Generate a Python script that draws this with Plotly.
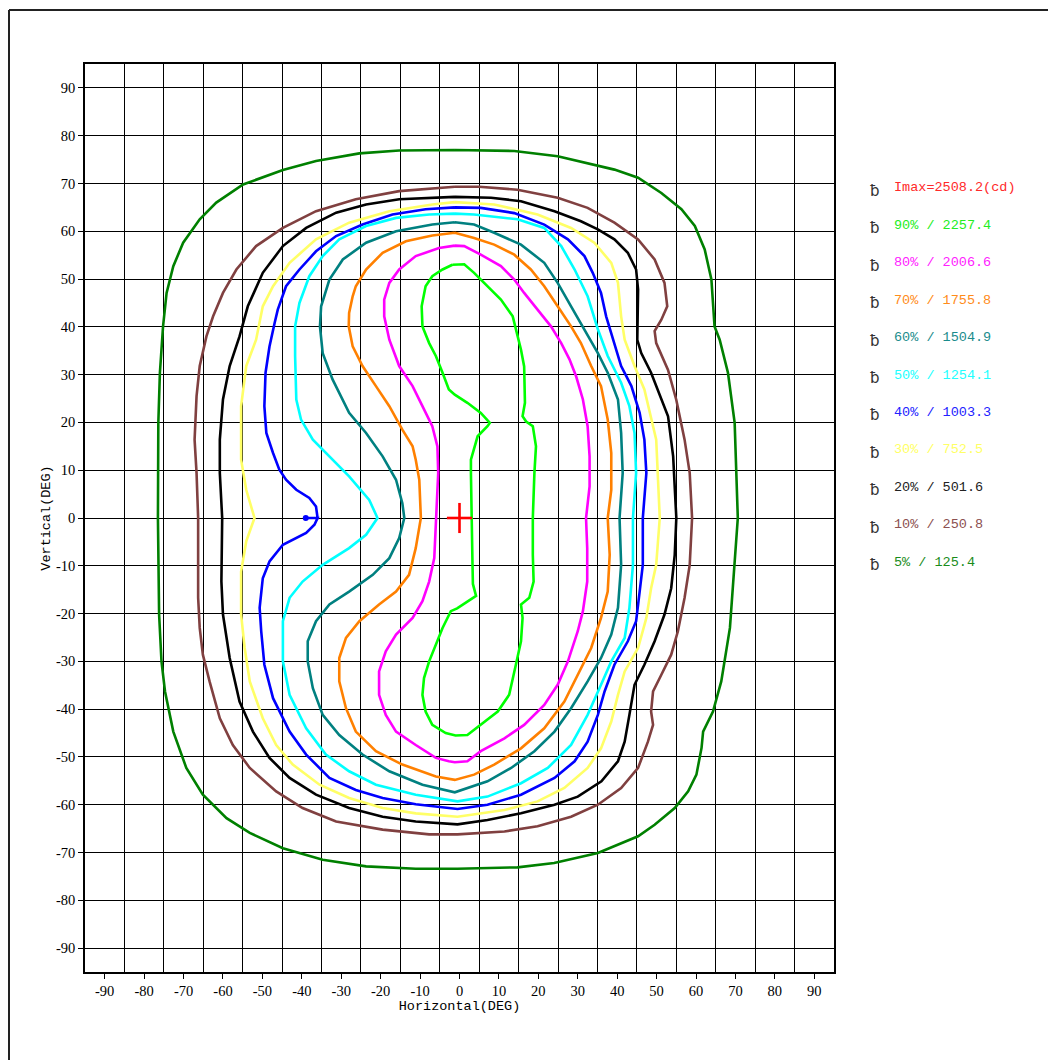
import plotly.graph_objects as go

# ---------------- data ----------------
X_TICKS = [-90, -80, -70, -60, -50, -40, -30, -20, -10, 0, 10, 20, 30, 40, 50, 60, 70, 80, 90]
X_TICK_TEXT = ["-90", "-80", "-70", "-60", "-50", "-40", "-30", "-20", "-10", "0", "10", "20", "30", "40", "50", "60", "70", "80", "90"]
Y_TICKS = [90, 80, 70, 60, 50, 40, 30, 20, 10, 0, -10, -20, -30, -40, -50, -60, -70, -80, -90]
Y_TICK_TEXT = ["90", "80", "70", "60", "50", "40", "30", "20", "10", "0", "-10", "-20", "-30", "-40", "-50", "-60", "-70", "-80", "-90"]
X_GRID = [-85, -75, -65, -55, -45, -35, -25, -15, -5, 5, 15, 25, 35, 45, 55, 65, 75, 85]

IMAX_POS = (0, 0)

# 5 %
C5_H = [-1.2, 13.9, 24.9, 32.5, 39.3, 45.3, 51.2, 56.3, 59.7, 62.2, 63.9, 64.7, 66.0, 68.1, 69.8, 70.6, 69.8, 68.6, 66.4, 64.3, 61.8, 61.4, 60.1, 58.0, 54.6, 49.5, 45.3, 35.1, 24.0, 14.7, -0.5, -11.1, -23.7, -34.7, -44.8, -53.2, -59.1, -65.1, -69.3, -72.6, -74.7, -75.6, -76.2, -76.5, -76.4, -76.0, -75.2, -74.3, -72.6, -70.1, -65.9, -61.7, -54.9, -44.8, -36.4, -25.4, -15.3, -1.2]
C5_V = [77.0, 76.8, 75.7, 74.3, 72.9, 71.2, 68.0, 64.6, 61.1, 56.2, 49.9, 40.1, 37.3, 30.4, 19.9, 0.0, -9.8, -23.0, -34.2, -40.5, -44.7, -48.1, -53.7, -57.2, -60.7, -64.2, -66.6, -70.1, -72.2, -73.1, -73.4, -73.4, -72.9, -71.5, -69.1, -65.9, -62.8, -57.9, -52.3, -44.7, -36.3, -30.0, -20.2, 0.0, 19.9, 30.4, 40.1, 47.1, 52.7, 57.6, 62.5, 66.0, 69.8, 72.8, 74.7, 76.3, 76.9, 77.0]

# 10 %
C10_H = [-1.2, 5.0, 14.7, 24.9, 32.5, 39.3, 45.3, 49.5, 52.0, 52.7, 51.2, 49.5, 49.9, 52.9, 55.0, 57.1, 58.4, 59.0, 58.4, 57.1, 55.4, 53.7, 51.2, 49.1, 48.6, 49.1, 47.8, 45.3, 41.0, 35.1, 28.3, 19.8, 11.4, -0.5, -7.7, -19.5, -31.3, -39.8, -46.5, -53.2, -57.5, -60.8, -63.4, -65.1, -65.9, -66.3, -66.3, -66.7, -67.2, -66.7, -65.9, -64.2, -62.5, -60.0, -56.6, -51.6, -44.8, -36.4, -26.3, -15.3, -1.2]
C10_V = [69.3, 69.3, 68.7, 67.0, 64.9, 61.8, 58.3, 54.1, 49.2, 44.3, 41.5, 39.1, 36.6, 31.0, 24.7, 16.4, 9.4, 0.0, -9.8, -16.7, -23.7, -28.6, -32.8, -36.3, -40.5, -43.3, -46.8, -52.3, -56.5, -60.0, -62.5, -64.5, -65.6, -66.2, -66.2, -65.2, -63.5, -60.7, -57.2, -52.3, -47.5, -41.9, -34.2, -28.6, -23.0, -16.7, 0.0, 9.4, 16.4, 25.5, 31.8, 38.0, 42.2, 47.1, 52.0, 56.9, 60.7, 64.2, 66.7, 68.4, 69.3]

# 20 %
C20_H = [-1.2, 8.0, 15.6, 24.1, 30.8, 35.1, 39.3, 42.7, 44.8, 45.3, 45.1, 46.1, 48.6, 51.2, 52.9, 54.2, 55.0, 54.6, 53.7, 52.0, 49.5, 46.9, 44.4, 43.1, 41.9, 40.2, 36.0, 30.0, 24.1, 15.6, 7.1, -0.5, -11.1, -19.5, -28.0, -36.4, -43.1, -48.2, -52.4, -55.8, -58.3, -60.0, -60.4, -60.2, -60.8, -60.8, -60.0, -58.3, -55.8, -53.7, -49.9, -44.8, -38.9, -31.3, -23.7, -15.3, -1.2]
C20_V = [67.2, 67.0, 66.3, 64.2, 62.1, 60.4, 58.3, 55.5, 52.0, 47.8, 37.3, 34.5, 30.4, 24.7, 21.3, 12.9, 0.0, -7.7, -14.7, -20.2, -25.8, -30.7, -34.9, -41.2, -46.8, -50.9, -55.1, -58.3, -60.0, -61.8, -63.2, -64.1, -63.5, -62.5, -60.7, -57.9, -54.4, -50.2, -44.7, -38.4, -29.3, -20.2, -13.3, 0.0, 9.4, 16.4, 24.8, 31.8, 38.0, 44.3, 51.3, 56.9, 60.7, 63.9, 65.6, 66.7, 67.2]

# 30 %
C30_H = [-1.2, 8.8, 19.8, 28.3, 34.2, 38.5, 40.2, 41.0, 41.9, 44.4, 46.9, 48.6, 49.9, 50.8, 49.9, 48.6, 47.4, 45.3, 41.9, 40.2, 38.5, 35.9, 32.5, 26.6, 19.8, 11.4, -0.5, -11.1, -19.5, -28.0, -35.5, -42.3, -46.5, -49.9, -53.2, -54.5, -55.4, -55.4, -54.1, -52.0, -54.1, -55.4, -55.4, -54.1, -51.6, -49.9, -47.3, -43.1, -36.4, -28.0, -17.8, -6.9, -1.2]
C30_V = [66.1, 65.6, 63.5, 60.7, 57.6, 53.4, 49.2, 42.2, 37.3, 31.8, 26.9, 21.3, 16.4, 0.0, -9.8, -14.7, -20.9, -27.2, -32.1, -37.0, -42.6, -48.2, -52.3, -56.5, -59.3, -61.1, -62.5, -61.8, -60.7, -58.6, -55.8, -51.6, -47.5, -41.9, -34.2, -27.2, -20.2, -11.2, -4.9, 0.0, 5.9, 12.2, 23.4, 31.8, 37.3, 44.3, 48.5, 53.4, 58.3, 61.8, 64.2, 65.6, 66.1]

# 40 %
C40_H = [-1.2, 5.4, 13.9, 21.5, 27.5, 31.7, 33.8, 35.9, 37.2, 38.9, 41.0, 43.6, 45.7, 46.9, 47.4, 46.5, 46.5, 45.7, 44.8, 42.7, 39.3, 36.8, 35.1, 32.5, 29.2, 24.1, 15.6, 7.1, -0.5, -11.1, -19.5, -26.3, -33.0, -38.9, -43.1, -47.3, -49.5, -50.3, -50.7, -49.9, -48.2, -44.8, -38.9, -36.8, -36.0, -39.0, -36.0, -36.4, -38.1, -41.4, -44.0, -45.7, -47.3, -49.0, -49.5, -49.2, -48.2, -46.9, -46.1, -44.0, -40.6, -36.4, -31.3, -24.6, -17.0, -8.6, -1.2]
C40_V = [65.0, 64.9, 63.8, 61.4, 58.3, 54.8, 51.3, 47.1, 42.2, 37.3, 31.8, 27.6, 22.0, 16.4, 9.4, 0.0, -9.8, -15.4, -21.6, -25.8, -30.7, -36.3, -41.2, -46.8, -50.9, -54.4, -57.9, -60.0, -60.9, -59.9, -58.6, -56.9, -54.4, -49.5, -44.7, -37.7, -30.7, -23.7, -18.8, -12.6, -9.1, -5.6, -3.1, -1.4, 0.0, 0.0, 0.0, 2.4, 4.2, 5.9, 8.0, 10.1, 13.6, 17.8, 23.4, 30.4, 35.9, 40.8, 43.6, 48.5, 52.0, 55.8, 59.0, 61.4, 63.5, 64.6, 65.0]
C40_DOT = (-39.0, 0.0)

# 50 %
C50_H = [-1.2, 3.7, 14.7, 21.5, 25.8, 29.2, 32.5, 35.1, 37.6, 41.0, 43.1, 44.4, 44.8, 44.0, 44.0, 43.1, 41.9, 38.5, 35.9, 32.5, 28.3, 22.4, 15.6, 7.1, -0.5, -11.1, -21.2, -28.0, -33.9, -38.9, -43.1, -44.8, -44.8, -43.1, -39.8, -34.7, -28.0, -23.7, -20.8, -22.9, -28.0, -33.0, -37.2, -40.2, -41.4, -41.7, -41.7, -40.6, -38.1, -34.7, -30.5, -23.7, -16.1, -7.7, -1.2]
C50_V = [63.7, 63.5, 62.5, 60.7, 56.9, 52.0, 46.4, 39.5, 33.9, 28.3, 23.4, 17.8, 9.4, 0.0, -9.8, -18.8, -25.1, -30.0, -34.9, -41.2, -47.5, -52.3, -55.5, -58.3, -59.3, -57.9, -55.8, -53.0, -49.5, -44.0, -37.0, -30.0, -21.6, -16.7, -13.3, -9.8, -6.3, -3.5, 0.0, 3.8, 8.7, 12.9, 16.4, 20.6, 24.8, 33.9, 40.1, 45.0, 50.6, 54.8, 58.3, 61.1, 62.8, 63.5, 63.7]

# 60 %
C60_H = [-1.2, 3.7, 8.8, 15.6, 21.5, 24.9, 28.3, 31.7, 35.1, 37.6, 40.2, 41.0, 41.4, 40.6, 41.0, 40.2, 38.5, 35.9, 32.5, 28.3, 24.1, 19.0, 13.1, 7.1, 2.0, -1.2, -9.4, -17.8, -24.6, -30.5, -34.7, -37.2, -38.5, -38.5, -36.4, -33.0, -28.0, -22.0, -17.8, -15.3, -14.0, -14.5, -16.1, -19.5, -23.7, -28.0, -32.2, -34.7, -35.4, -35.1, -33.0, -29.6, -23.7, -16.1, -6.9, -1.2]
C60_V = [61.9, 61.4, 59.7, 57.2, 53.4, 49.2, 44.3, 39.4, 34.5, 30.4, 24.8, 17.8, 9.4, 0.0, -9.8, -18.8, -24.4, -29.3, -34.2, -39.8, -44.7, -48.8, -52.3, -55.1, -56.5, -57.4, -55.8, -53.0, -49.5, -45.4, -41.2, -35.6, -30.0, -25.8, -21.6, -18.1, -15.4, -11.9, -8.4, -4.2, 0.0, 3.1, 8.0, 12.9, 17.8, 22.0, 29.0, 34.5, 40.1, 44.3, 49.9, 54.1, 57.6, 60.0, 61.4, 61.9]

# 70 %
C70_H = [-1.2, 3.7, 8.8, 13.9, 18.1, 21.5, 24.9, 28.3, 30.8, 33.4, 35.9, 37.6, 38.5, 38.5, 37.6, 38.1, 37.6, 35.9, 33.4, 30.0, 26.6, 21.5, 15.6, 8.8, 3.7, -1.2, -6.0, -14.5, -21.2, -26.3, -28.8, -30.5, -30.5, -28.8, -25.4, -20.4, -16.1, -12.8, -11.1, -9.8, -10.2, -11.1, -11.9, -14.5, -17.8, -21.2, -24.6, -27.1, -28.1, -28.0, -27.1, -26.3, -23.7, -19.5, -13.6, -6.9, -1.2]
C70_V = [59.7, 58.6, 57.2, 55.1, 52.0, 48.5, 44.3, 40.1, 36.6, 31.8, 27.6, 20.6, 13.6, 5.9, 0.0, -7.7, -15.4, -20.9, -27.2, -32.8, -38.4, -44.0, -48.2, -51.6, -53.7, -54.8, -54.1, -51.6, -48.8, -44.7, -39.8, -34.2, -29.3, -25.1, -21.6, -18.1, -15.4, -11.9, -6.3, 0.0, 8.0, 12.2, 15.0, 18.5, 23.4, 27.6, 31.8, 35.9, 40.1, 42.9, 46.4, 48.5, 52.0, 55.5, 57.9, 59.1, 59.7]

# 80 %
C80_H = [-1.2, 1.2, 5.4, 10.5, 13.9, 16.4, 19.8, 23.2, 25.8, 27.9, 29.6, 31.3, 32.5, 33.0, 33.0, 32.1, 32.4, 32.4, 31.3, 30.0, 27.5, 24.9, 21.5, 16.4, 11.4, 5.4, 2.0, -1.2, -2.7, -6.0, -11.1, -16.1, -18.7, -20.4, -20.4, -18.7, -16.1, -11.9, -9.4, -7.7, -6.4, -5.9, -5.4, -5.6, -6.9, -9.4, -11.9, -15.3, -17.8, -19.1, -19.1, -17.8, -15.3, -11.1, -5.2, -1.2]
C80_V = [57.0, 56.9, 55.1, 52.7, 49.9, 47.1, 43.6, 40.1, 36.6, 33.2, 29.6, 24.8, 19.2, 12.9, 6.6, 0.0, -6.3, -13.3, -19.5, -23.7, -30.0, -34.9, -39.1, -43.3, -46.1, -48.8, -50.9, -51.1, -50.9, -50.2, -47.5, -44.7, -41.2, -37.0, -32.1, -27.9, -24.4, -20.9, -17.4, -13.3, -8.4, 0.0, 9.4, 15.0, 19.2, 23.4, 27.6, 31.8, 37.3, 42.2, 45.7, 49.2, 52.0, 54.8, 56.5, 57.0]

# 90 %
C90_H = [-1.8, 1.2, 3.7, 7.1, 10.5, 13.5, 14.3, 15.6, 16.4, 16.6, 16.0, 16.9, 18.6, 19.4, 19.0, 18.6, 18.6, 18.8, 17.7, 15.6, 16.0, 15.6, 14.3, 12.6, 9.7, 5.4, 2.0, -1.0, -3.5, -6.9, -8.6, -9.4, -9.0, -7.7, -6.0, -4.3, -2.2, -0.6, 4.2, 3.4, 3.3, 3.0, 2.9, 2.9, 4.6, 7.1, 7.7, 5.4, 2.0, -1.2, -2.7, -4.3, -6.0, -7.7, -9.4, -9.6, -8.6, -6.9, -4.3, -1.8]
C90_V = [53.0, 53.1, 51.3, 48.5, 45.7, 42.2, 39.4, 35.2, 31.7, 24.1, 21.3, 20.2, 19.2, 15.0, 9.4, 0.0, -7.7, -13.3, -16.7, -18.1, -20.9, -25.8, -30.7, -37.0, -40.5, -43.3, -45.4, -45.5, -45.0, -43.3, -40.5, -37.0, -33.5, -30.0, -26.5, -23.0, -19.5, -18.9, -16.3, -13.8, -9.8, 0.0, 9.4, 12.2, 17.1, 19.2, 19.9, 22.0, 24.1, 25.8, 26.9, 30.4, 33.9, 36.6, 40.1, 44.3, 48.5, 50.6, 52.0, 53.0]

LEVEL_COLORS = ["#008000", "#804040", "#000000", "#ffff66", "#0000ff", "#00ffff", "#008080", "#ff8000", "#ff00ff", "#00ff00"]
LEVEL_NAMES = ["5%", "10%", "20%", "30%", "40%", "50%", "60%", "70%", "80%", "90%"]
LEVEL_H = [C5_H, C10_H, C20_H, C30_H, C40_H, C50_H, C60_H, C70_H, C80_H, C90_H]
LEVEL_V = [C5_V, C10_V, C20_V, C30_V, C40_V, C50_V, C60_V, C70_V, C80_V, C90_V]

LEGEND_LABELS = ["Imax=2508.2(cd)", "90% / 2257.4", "80% / 2006.6", "70% / 1755.8", "60% / 1504.9",
                 "50% / 1254.1", "40% / 1003.3", "30% / 752.5", "20% / 501.6", "10% / 250.8", "5% / 125.4"]
LEGEND_COLORS = ["#ff2a2a", "#22ee22", "#ff22ff", "#ff8c1a", "#1a8c8c", "#22ffff", "#2222ff", "#ffff66",
                 "#222222", "#8c5050", "#1a8c1a"]

# ---------------- figure ----------------
PAGE_OFF = 8                      # browser body margin
W, H = 1056 - PAGE_OFF, 1060 - PAGE_OFF
ML, MT = 85 - PAGE_OFF, 64 - PAGE_OFF
PW, PH = 749, 908
MR, MB = W - ML - PW, H - MT - PH


def px_to_paper_x(px):
    return (px - PAGE_OFF - ML) / PW


def px_to_paper_y(py):
    return (MT + PH - (py - PAGE_OFF)) / PH


fig = go.Figure()

for name, col, xs, ys in zip(LEVEL_NAMES, LEVEL_COLORS, LEVEL_H, LEVEL_V):
    fig.add_trace(go.Scatter(x=xs, y=ys, mode="lines", name=name,
                             line=dict(color=col, width=2.6), hoverinfo="skip"))

fig.add_trace(go.Scatter(x=[C40_DOT[0]], y=[C40_DOT[1]], mode="markers",
                         marker=dict(color="#0000ff", size=6), hoverinfo="skip"))

# Imax cross (horizontal and vertical bars)
fig.add_trace(go.Scatter(x=[IMAX_POS[0]], y=[IMAX_POS[1]], mode="markers",
                         marker=dict(symbol="line-ew", size=18,
                                     line=dict(color="#ff0000", width=2.6)),
                         hoverinfo="skip"))
fig.add_trace(go.Scatter(x=[IMAX_POS[0]], y=[IMAX_POS[1]], mode="markers",
                         marker=dict(symbol="line-ns", size=21.5,
                                     line=dict(color="#ff0000", width=2.6)),
                         hoverinfo="skip"))

axis_common = dict(
    range=[-95, 95], showline=True, mirror=True, linecolor="black", linewidth=1.5,
    ticks="outside", ticklen=5, tickwidth=1.2, tickcolor="black",
    tickfont=dict(family="Liberation Serif", size=14.5, color="black"),
    zeroline=False, fixedrange=True,
)

fig.update_layout(
    width=W, height=H,
    margin=dict(l=ML, r=MR, t=MT, b=MB, autoexpand=False),
    paper_bgcolor="white", plot_bgcolor="white",
    showlegend=False,
    xaxis=dict(**axis_common, tickmode="array", tickvals=X_TICKS, ticktext=X_TICK_TEXT,
               showgrid=False,
               minor=dict(tickmode="array", tickvals=X_GRID, showgrid=True,
                          gridcolor="black", gridwidth=1.3, ticks=""),
               title=dict(text="Horizontal(DEG)", standoff=2,
                          font=dict(family="Liberation Mono", size=13.5, color="black"))),
    yaxis=dict(**axis_common, tickmode="array", tickvals=Y_TICKS, ticktext=Y_TICK_TEXT,
               showgrid=True, gridcolor="black", gridwidth=1.3,
               title=dict(text="Vertical(DEG)", standoff=2,
                          font=dict(family="Liberation Mono", size=13.5, color="black"))),
)

# outer frame
fig.add_shape(type="line", xref="paper", yref="paper",
              x0=px_to_paper_x(9), y0=px_to_paper_y(10), x1=px_to_paper_x(1070), y1=px_to_paper_y(10),
              line=dict(color="#222222", width=2))
fig.add_shape(type="line", xref="paper", yref="paper",
              x0=px_to_paper_x(9), y0=px_to_paper_y(10), x1=px_to_paper_x(9), y1=px_to_paper_y(1075),
              line=dict(color="#222222", width=2))

# legend block
top_py, step_py = 188, 37.4
for i, (lab, col) in enumerate(zip(LEGEND_LABELS, LEGEND_COLORS)):
    py = top_py + i * step_py
    fig.add_annotation(xref="paper", yref="paper", x=px_to_paper_x(868), y=px_to_paper_y(py + 3),
                       text="ƀ", showarrow=False, xanchor="left", yanchor="middle",
                       font=dict(family="DejaVu Sans", size=15, color="#333333"))
    fig.add_annotation(xref="paper", yref="paper", x=px_to_paper_x(892), y=px_to_paper_y(py),
                       text=lab, showarrow=False, xanchor="left", yanchor="middle",
                       font=dict(family="Liberation Mono", size=13.5, color=col))

fig.write_html("out.html")
